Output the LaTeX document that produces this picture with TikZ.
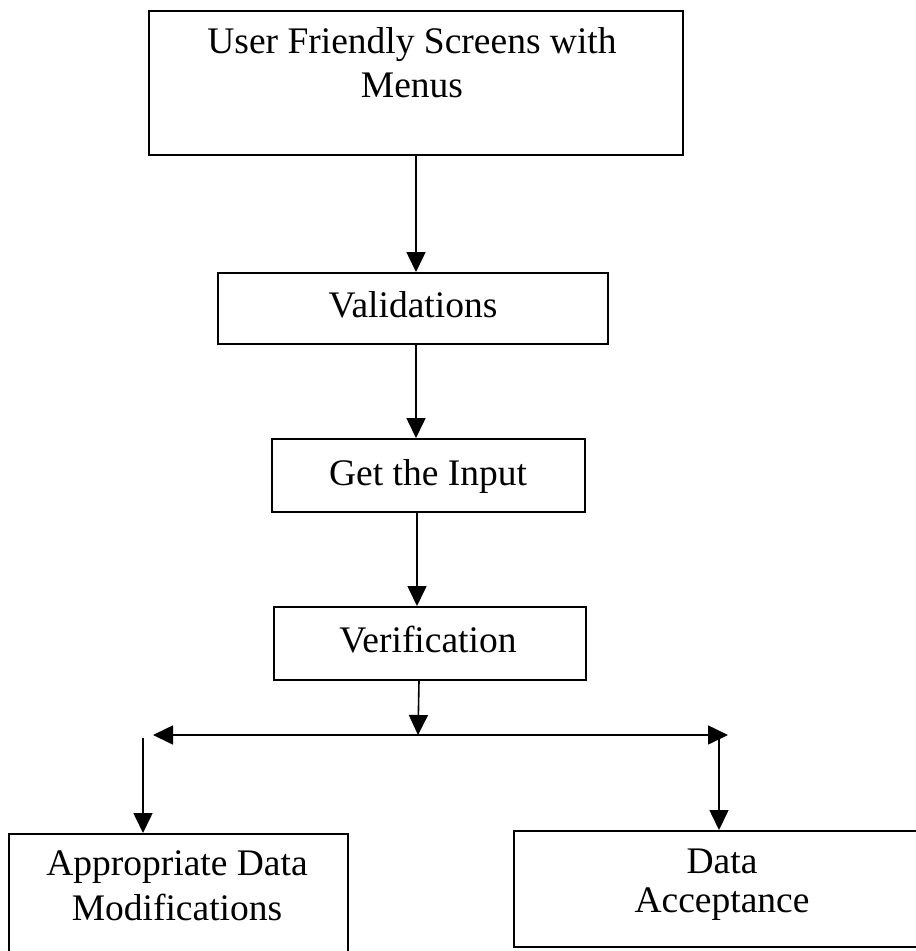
\documentclass[tikz,border=0pt]{standalone}
\usepackage{fontspec}
\setmainfont{Liberation Serif}
\usetikzlibrary{arrows.meta}
\begin{document}
\begin{tikzpicture}[x=1pt,y=-1pt,
  box/.style={draw, line width=2pt, inner sep=0pt, anchor=north west},
  lbl/.style={inner sep=0pt, align=center, anchor=base},
  big/.style={font=\fontsize{37.5}{44}\selectfont},
  flow/.style={line width=1.6pt, -{Triangle[length=20pt,width=19pt]}},
  both/.style={line width=1.6pt, {Triangle[length=20pt,width=19pt]}-{Triangle[length=20pt,width=19pt]}},
]
\useasboundingbox (0,0) rectangle (916,951);

% boxes
\node[box, minimum width=534pt, minimum height=144pt] (menus)  at (148,10)  {};
\node[box, minimum width=390pt, minimum height=71pt]  (valid)  at (217,272) {};
\node[box, minimum width=313pt, minimum height=73pt]  (input)  at (271,438) {};
\node[box, minimum width=312pt, minimum height=73pt]  (verif)  at (273,606) {};
\node[box, minimum width=339pt, minimum height=150pt] (modif)  at (8,833)   {};
\node[box, minimum width=430pt, minimum height=116pt] (accept) at (513,830) {};

% labels (base anchor of a two-line label sits on its last line)
\node[lbl, big] (tmenus) at (412,97) {User Friendly Screens with\\Menus};
\node[lbl, big] (tvalid) at (413,317) {Validations};
\node[lbl, big] (tinput) at (428,485) {Get the Input};
\node[lbl, big] (tverif) at (428,652) {Verification};
\node[lbl, font=\fontsize{37.5}{45}\selectfont] (tmodif) at (177,920) {Appropriate Data\\Modifications};
\node[lbl, font=\fontsize{37.5}{39}\selectfont] (taccept) at (722,912) {Data\\Acceptance};

% branch points
\coordinate (split) at (418,735);
\coordinate (lend) at (153,735);
\coordinate (rend) at (728,735);
\coordinate (ltop) at (143,738);
\coordinate (rtop) at (719,735);

% connectors
\draw[flow] (menus.south) -- (menus.south |- valid.north);
\draw[flow] ([xshift=3pt]valid.south) -- ([xshift=3pt]valid.south |- input.north);
\draw[flow] ([xshift=-11.5pt]input.south) -- ([xshift=-11.5pt]input.south |- verif.north);
\draw[flow] ([xshift=-11pt]verif.south) -- (split);
\draw[both] (lend) -- (rend);
\draw[flow] (ltop) -- (ltop |- modif.north);
\draw[flow] (rtop) -- (rtop |- accept.north);
\end{tikzpicture}
\end{document}
